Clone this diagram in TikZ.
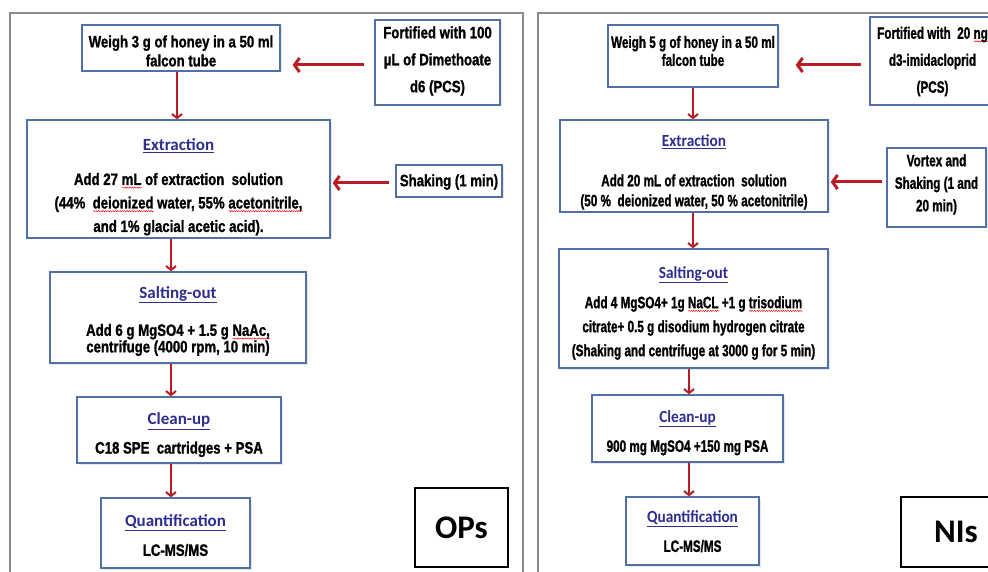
\documentclass[tikz,border=0pt]{standalone}
\usepackage{fontspec}
\usetikzlibrary{arrows.meta,shadows,decorations.pathmorphing}
\setmainfont{Liberation Sans}
\newfontfamily\bodyL{Liberation Sans}[FakeStretch=0.8,FakeBold=1.2]
\newfontfamily\bodyR{Liberation Sans}[FakeStretch=0.71,FakeBold=1.2]
\newfontfamily\ttlL{Carlito}
\newfontfamily\ttlR{Carlito}[FakeStretch=0.9]
\newfontfamily\bigfont{Carlito}
\definecolor{boxblue}{HTML}{4F71A6}
\definecolor{tblue}{HTML}{2E2E8F}
\definecolor{arrred}{HTML}{B81D24}
\definecolor{framegray}{HTML}{8A8A8A}
\newlength\sqw
\newcommand\sq[1]{\setbox0\hbox{#1}\setlength\sqw{\wd0}\rlap{\raisebox{-3.5pt}{\tikz\draw[red,line width=0.45pt,decorate,decoration={snake,amplitude=0.6pt,segment length=2.4pt}] (0pt,0pt)--(\sqw,0pt);}}#1}
\newcommand\tL[1]{{\ttlL\bfseries\fontsize{17}{17}\selectfont\textcolor{tblue}{\underline{#1}}}}
\newcommand\tR[1]{{\ttlR\bfseries\fontsize{17}{17}\selectfont\textcolor{tblue}{\underline{#1}}}}
\tikzset{
  box/.style={draw=boxblue, line width=1.4pt, fill=white, inner sep=0pt,
    drop shadow={shadow xshift=1.5pt, shadow yshift=-1.5pt, opacity=0.18}},
  txt/.style={align=center, inner sep=0pt},
  bl/.style={txt, font=\bodyL\bfseries\fontsize{16.5}{#1}\selectfont},
  br/.style={txt, font=\bodyR\bfseries\fontsize{16.5}{#1}\selectfont},
  sz/.style 2 args={minimum width=#1pt, minimum height=#2pt},
  harr/.style={draw=arrred, line width=3pt, -{Straight Barb[length=5pt,width=14pt]}},
  varr/.style={draw=arrred, line width=2pt, -{Straight Barb[length=4pt,width=10pt]}},
  frame/.style={draw=framegray, line width=2pt},
  tagbox/.style={draw=black, line width=1.2pt, fill=white, font=\bigfont\bfseries\fontsize{33}{33}\selectfont},
}
\begin{document}
\begin{tikzpicture}[x=1pt,y=-1pt]
\useasboundingbox (0,0) rectangle (988,572);
\clip (0,0) rectangle (988,572);
\fill[white] (0,0) rectangle (988,572);
% panels
\draw[frame] (10,13) rectangle (523,590);
\draw[frame] (538,13) rectangle (1010,590);

% ---------- left panel (OPs)
\node[box,sz={198}{46}] (L1) at (181,48) {};
\node[bl=19] (L1t) at (181,51) {Weigh 3 g of honey in a 50 ml\\falcon tube};
\node[box,sz={125}{85}] (L0) at (437.5,62.5) {};
\node[bl=27] (L0t) at (437.5,61) {Fortified with 100\\µL of Dimethoate\\d6 (PCS)};
\node[box,sz={303}{118}] (L2) at (178.5,179) {};
\node[bl=23.5] (L2t) at (178.5,187) {\tL{Extraction}\\[11pt]Add 27 \sq{mL} of extraction\ \ solution\\(44\%\ \ \sq{deionized} water, 55\% \sq{acetonitrile,}\\and 1\% glacial acetic acid).};
\node[box,sz={106}{32}] (LS) at (449,181) {};
\node[bl=19] (LSt) at (449,182) {Shaking (1 min)};
\node[box,sz={256}{91}] (L3) at (178,317.5) {};
\node[bl=16.5] (L3t) at (178,321) {\tL{Salting-out}\\[20pt]Add 6 g MgSO4 + 1.5 g \sq{NaAc,}\\centrifuge (4000 rpm, 10 min)};
\node[box,sz={204}{66}] (L4) at (179,430) {};
\node[bl=16] (L4t) at (179,435) {\tL{Clean-up}\\[11pt]C18 SPE\ \ cartridges + PSA};
\node[box,sz={149}{70}] (L5) at (175.5,533) {};
\node[bl=16] (L5t) at (175.5,535.5) {\tL{Quantification}\\[12pt]LC-MS/MS};
\node[tagbox,sz={93}{79}] (OP) at (461.5,527.5) {OPs};

\draw[harr,shorten <=10pt,shorten >=12pt] (L0.west |- 0,65) -- (L1.east |- 0,65);
\draw[harr,shorten <=6pt,shorten >=2pt] (LS.west |- 0,183) -- (L2.east |- 0,183);
\draw[varr] (L1.south -| 177,0) -- (L2.north -| 177,0);
\draw[varr] (L2.south -| 171,0) -- (L3.north -| 171,0);
\draw[varr] (L3.south -| 171,0) -- (L4.north -| 171,0);
\draw[varr] (L4.south -| 171,0) -- (L5.north -| 171,0);

% ---------- right panel (NIs)
\node[box,sz={170}{62}] (R1) at (693,56) {};
\node[br=18] (R1t) at (693,51) {Weigh 5 g of honey in a 50 ml\\falcon tube};
\node[box,sz={125}{88}] (R0) at (932.5,61) {};
\node[br=27] (R0t) at (932.5,61.5) {Fortified with\ \ 20 \sq{ng}\\d3-imidacloprid\\(PCS)};
\node[box,sz={268}{92}] (R2) at (694,166) {};
\node[br=20] (R2t) at (694,172) {\tR{Extraction}\\[20pt]Add 20 mL of extraction\ \ solution\\(50 \%\ \ deionized water, 50 \% acetonitrile)};
\node[box,sz={99}{79}] (RV) at (936.5,187.5) {};
\node[br=22.5] (RVt) at (936.5,184.5) {Vortex and\\Shaking (1 and\\20 min)};
\node[box,sz={269}{119}] (R3) at (693.5,308.5) {};
\node[br=24] (R3t) at (693.5,313) {\tR{Salting-out}\\[6pt]Add 4 MgSO4+ 1g \sq{NaCL} +1 g \sq{trisodium}\\citrate+ 0.5 g disodium hydrogen citrate\\(Shaking and centrifuge at 3000 g for 5 min)};
\node[box,sz={191}{67}] (R4) at (687.5,428.5) {};
\node[br=16] (R4t) at (687.5,433) {\tR{Clean-up}\\[12pt]900 mg MgSO4 +150 mg PSA};
\node[box,sz={133}{68}] (R5) at (692.5,531) {};
\node[br=16] (R5t) at (692.5,531.5) {\tR{Quantification}\\[12pt]LC-MS/MS};
\node[tagbox,sz={110}{70}] (NI) at (956,532) {NIs};

\draw[harr,shorten <=8pt,shorten >=17pt] (R0.west |- 0,65) -- (R1.east |- 0,65);
\draw[harr,shorten <=4pt,shorten >=2pt] (RV.west |- 0,182) -- (R2.east |- 0,182);
\draw[varr] (R1.south -| 693,0) -- (R2.north -| 693,0);
\draw[varr] (R2.south -| 693,0) -- (R3.north -| 693,0);
\draw[varr] (R3.south -| 689,0) -- (R4.north -| 689,0);
\draw[varr] (R4.south -| 689,0) -- (R5.north -| 689,0);
\end{tikzpicture}
\end{document}
